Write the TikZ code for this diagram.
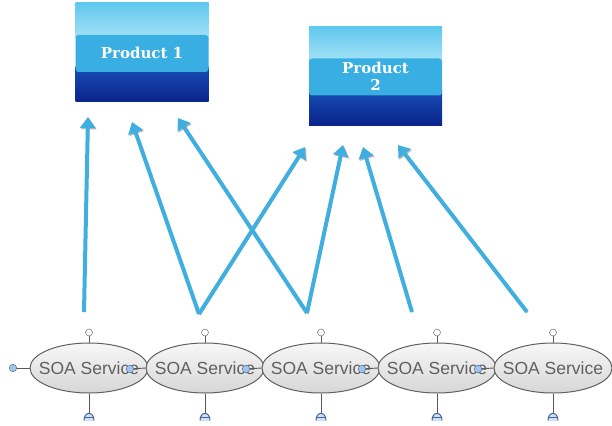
\documentclass[tikz,border=0pt]{standalone}
\usepackage{fontspec}
\newfontfamily\soafont{Liberation Sans}
\newfontfamily\prodfont{DejaVu Serif}
\usetikzlibrary{arrows.meta,calc,shapes.geometric}

\definecolor{skytop}{RGB}{96,200,238}
\definecolor{skymid}{RGB}{192,237,250}
\definecolor{skylow}{RGB}{128,212,242}
\definecolor{bandblue}{RGB}{56,174,226}
\definecolor{navytop}{RGB}{24,76,182}
\definecolor{navylow}{RGB}{10,36,138}
\definecolor{flowblue}{RGB}{64,174,222}
\definecolor{portblue}{RGB}{160,196,238}
\definecolor{portedge}{RGB}{70,100,150}

\tikzset{
  product/.style={minimum width=133pt, minimum height=99pt, inner sep=0pt,
    text=white, align=center, font=\prodfont\bfseries\fontsize{15}{17}\selectfont,
    path picture={
      \shade[top color=skytop, bottom color=skylow, middle color=skymid]
        (path picture bounding box.north west) rectangle ($(path picture bounding box.north east)+(0,36)$);
      \shade[top color=navytop, bottom color=navylow]
        ($(path picture bounding box.north west)+(0,64)$) rectangle (path picture bounding box.south east);
      \fill[bandblue, rounded corners=3pt]
        ($(path picture bounding box.north west)+(0,32)$) rectangle ($(path picture bounding box.north east)+(0,69)$);
    }},
  service/.style={ellipse, draw=gray!75!black, line width=1pt, top color=gray!6,
    bottom color=gray!32, minimum width=118pt, minimum height=50pt, inner sep=0pt,
    label={[servicetext]center:SOA Service}},
  servicetext/.style={text=gray!75!black, inner sep=0pt,
    font=\soafont\fontsize{17.5}{19}\selectfont},
  flow/.style={-{Triangle[width=15pt,length=11pt]}, line width=4pt, flowblue,
    preaction={draw=gray!55, transform canvas={shift={(1pt,-1.2pt)}}}},
  port/.style={circle, draw=portedge, fill=portblue, inner sep=0pt, minimum size=7.5pt},
  plug/.style={circle, draw=gray!70!black, fill=white, inner sep=0pt, minimum size=7pt},
  wire/.style={draw=gray!70!black, line width=0.9pt}
}

\begin{document}
\begin{tikzpicture}[x=1pt, y=-1pt]
\useasboundingbox (0,0) rectangle (612,425);

% products
\node[product] (p1) at (142,52.5) {Product 1};
\node[product] (p2) at (375.5,76) {Product\\2};

% services
\node[service] (s1) at (89,368) {};
\node[service] (s2) at (205,368) {};
\node[service] (s3) at (321,368) {};
\node[service] (s4) at (437,368) {};
\node[service] (s5) at (553,368) {};

% ports
\node[port] (l1) at (13,368) {};
\draw[wire] (l1) -- (s1.west);
\foreach \a/\b in {s1/s2, s2/s3, s3/s4, s4/s5} {
  \node[port] (r\a) at ($(\a)+(41,1)$) {};
  \draw[wire] (r\a) -- (\b.west);
}
\foreach \s in {s1,s2,s3,s4,s5} {
  \node[plug] (u\s) at ($(\s.north)+(0,-10)$) {};
  \draw[wire] (u\s) -- (\s.north);
  \coordinate (d\s) at ($(\s.south)+(0,19)$);
  \draw[wire] (\s.south) -- (d\s);
  \draw[portedge, fill=portblue!50, line width=1pt] ($(d\s)+(-5,8)$)
    .. controls ($(d\s)+(-5,-1.5)$) and ($(d\s)+(5,-1.5)$) .. ($(d\s)+(5,8)$);
  \draw[portedge, line width=1pt] ($(d\s)+(-5,5)$) -- ($(d\s)+(5,5)$);
}

% arrow ends
\coordinate (o1) at (84,312);
\coordinate (o2) at (199,314);
\coordinate (o3) at (307,313);
\coordinate (o4) at (412,312);
\coordinate (o5) at (527,312);
\coordinate (t1) at (88,117);
\coordinate (t2) at (132,122);
\coordinate (t3) at (178,118);
\coordinate (t4) at (305,147);
\coordinate (t5) at (343,145);
\coordinate (t6) at (363,147);
\coordinate (t7) at (398,145);

\draw[flow] (o1) -- (t1);
\draw[flow] (o2) -- (t2);
\draw[flow] (o2) -- (t4);
\draw[flow] (o3) -- (t3);
\draw[flow] (o3) -- (t5);
\draw[flow] (o4) -- (t6);
\draw[flow] (o5) -- (t7);
\end{tikzpicture}
\end{document}
